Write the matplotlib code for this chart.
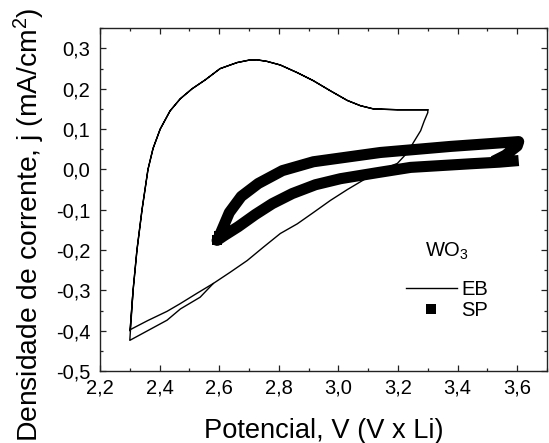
import matplotlib
matplotlib.use("Agg")
import matplotlib.pyplot as plt
from matplotlib.lines import Line2D
from matplotlib.ticker import MultipleLocator, FuncFormatter

plt.rcParams['font.family'] = ['Liberation Sans', 'DejaVu Sans']
plt.rcParams['mathtext.fontset'] = 'custom'
plt.rcParams['mathtext.rm'] = 'Liberation Sans'
plt.rcParams['mathtext.it'] = 'Liberation Sans:italic'
plt.rcParams['mathtext.bf'] = 'Liberation Sans:bold'

# ---------------- data ----------------
# EB: anodic sweep 2.3 -> 3.3 V
eb_anod_v = [2.301, 2.311, 2.324, 2.341, 2.361, 2.378, 2.402, 2.435, 2.469, 2.509,
             2.553, 2.603, 2.660, 2.700, 2.725, 2.760, 2.805, 2.862, 2.916, 2.973,
             3.030, 3.074, 3.118, 3.198, 3.300]
eb_anod_j = [-0.400, -0.300, -0.200, -0.100, 0.000, 0.052, 0.100, 0.145, 0.175, 0.200,
             0.222, 0.250, 0.265, 0.271, 0.272, 0.268, 0.259, 0.240, 0.220, 0.195,
             0.171, 0.158, 0.150, 0.148, 0.148]
# EB: cathodic sweep 3.3 -> 2.3 V
eb_cath_v = [3.300, 3.288, 3.276, 3.252, 3.232, 3.198, 3.165, 3.120, 3.080, 3.030,
             2.973, 2.916, 2.862, 2.805, 2.748, 2.694, 2.637, 2.580, 2.526, 2.469,
             2.425, 2.360, 2.300]
eb_cath_j = [0.141, 0.120, 0.096, 0.067, 0.042, 0.015, 0.005, -0.010, -0.028, -0.050,
             -0.077, -0.107, -0.135, -0.159, -0.193, -0.226, -0.255, -0.283, -0.307, -0.333,
             -0.352, -0.375, -0.398]
# EB: first-cycle cathodic end (outer line)
eb_first_v = [2.580, 2.536, 2.470, 2.425, 2.360, 2.300, 2.311]
eb_first_j = [-0.283, -0.317, -0.346, -0.374, -0.400, -0.424, -0.300]

# SP: cathodic branch (lower band), 3.6 -> 2.59 V
sp_cath_v = [3.605, 3.540, 3.444, 3.242, 3.131, 3.007, 2.923, 2.845, 2.778, 2.721,
             2.664, 2.617, 2.593]
sp_cath_j = [0.022, 0.018, 0.014, 0.005, -0.008, -0.023, -0.038, -0.060, -0.085, -0.112,
             -0.142, -0.164, -0.176]
# SP: anodic branch (upper band), 2.6 -> 3.6 V
sp_anod_v = [2.600, 2.634, 2.674, 2.731, 2.812, 2.916, 3.141, 3.376, 3.605]
sp_anod_j = [-0.166, -0.107, -0.067, -0.035, -0.003, 0.019, 0.042, 0.057, 0.069]
# SP: reversal at 3.6 V
sp_rev_v = [3.600, 3.560, 3.520]
sp_rev_j = [0.058, 0.035, 0.020]

x_ticks = [2.2, 2.4, 2.6, 2.8, 3.0, 3.2, 3.4, 3.6]
y_ticks = [-0.5, -0.4, -0.3, -0.2, -0.1, 0.0, 0.1, 0.2, 0.3]

# ---------------- figure ----------------
fig = plt.figure(figsize=(5.49, 4.43), dpi=100)
ax = fig.add_axes([100/549, 1-371/443, 447/549, (371-28.3)/443])

eb_v = eb_anod_v + eb_cath_v + eb_anod_v
eb_j = eb_anod_j + eb_cath_j + eb_anod_j
ax.plot(eb_v, eb_j, color='k', lw=1.0, zorder=2, solid_joinstyle='round')
ax.plot(eb_first_v, eb_first_j, color='k', lw=1.0, zorder=2, solid_joinstyle='round')

sp_v = sp_cath_v + sp_anod_v + sp_rev_v
sp_j = sp_cath_j + sp_anod_j + sp_rev_j
tip = len(sp_cath_v) - 1
ax.plot(sp_v, sp_j, color='k', lw=8.0, marker='s', ms=7.6, mew=0,
        markevery=[tip, tip + 1], solid_joinstyle='round', solid_capstyle='butt',
        zorder=3)

ax.set_xlim(2.2, 3.7)
ax.set_ylim(-0.5, 0.35)
ax.set_xticks(x_ticks)
ax.set_yticks(y_ticks)
ax.xaxis.set_minor_locator(MultipleLocator(0.1))
ax.yaxis.set_minor_locator(MultipleLocator(0.05))

def fmt(v, p):
    s = f"{v:.1f}"
    if s == "-0.0":
        s = "0.0"
    return s.replace('.', ',')

ax.xaxis.set_major_formatter(FuncFormatter(fmt))
ax.yaxis.set_major_formatter(FuncFormatter(fmt))

ax.tick_params(which='both', direction='in', top=True, right=True, width=0.9,
               colors='#222222', labelcolor='k')
ax.tick_params(which='major', length=4.0, labelsize=14.5)
ax.tick_params(axis='x', which='major', pad=5.5)
ax.tick_params(axis='y', which='major', pad=7)
ax.tick_params(which='minor', length=2.4)
for s in ax.spines.values():
    s.set_linewidth(1.0)
    s.set_color('#222222')

fig.text(323.5/549, 1-437.5/443, 'Potencial, V (V x Li)', ha='center', va='baseline',
         fontsize=19.6)
fig.text(29/549, 1-225/443, 'Densidade de corrente, j (mA/cm$^2$)', rotation=90,
         ha='center', va='center', fontsize=20.3)

# legend title and entries
fig.text(425/549, 1-257/443, 'WO$_3$', ha='left', va='baseline', fontsize=14.5)
h_eb = Line2D([], [], color='k', lw=1.0)
h_sp = Line2D([], [], color='k', ls='none', marker='s', ms=7.2, mew=0)
leg = ax.legend([h_eb, h_sp], ['EB', 'SP'], frameon=False,
                fontsize=14.5, handlelength=2.53,
                handletextpad=0.2, labelspacing=0.1, borderpad=0, borderaxespad=0,
                loc='center left', bbox_to_anchor=(406/549, 1-300/443),
                bbox_transform=fig.transFigure)

fig.savefig('out.png', dpi=100)
